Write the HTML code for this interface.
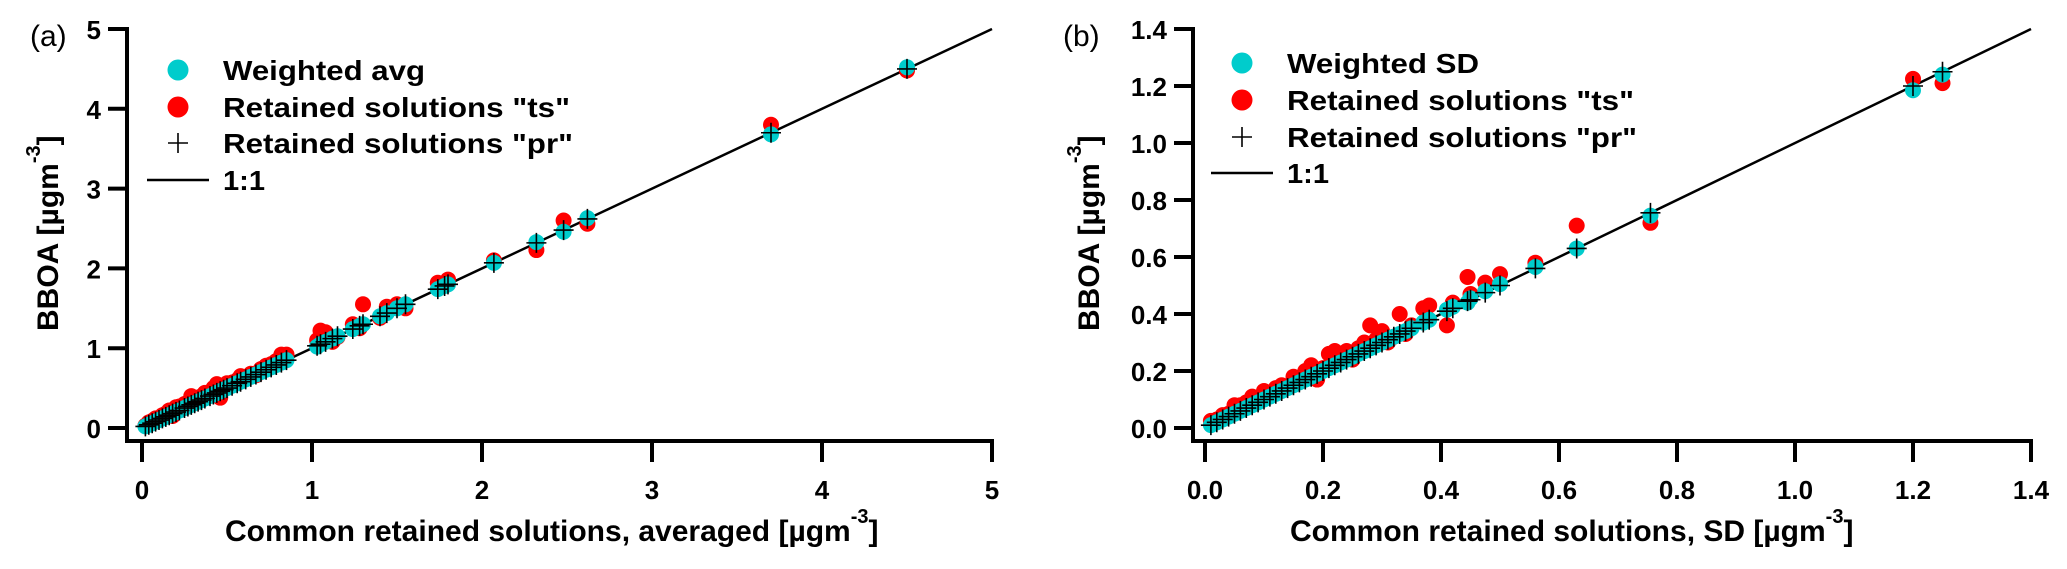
<!DOCTYPE html>
<html><head><meta charset="utf-8"><title>BBOA comparison</title>
<style>
html,body{margin:0;padding:0;background:#fff;}
svg{display:block;font-family:"Liberation Sans",Arial,sans-serif;font-weight:bold;}
</style></head>
<body>
<svg id="chart" width="2067" height="569" viewBox="0 0 2067 569" xmlns="http://www.w3.org/2000/svg"></svg>
<script>
// Panel (a) data
const aCommon = [0.02,0.04,0.06,0.08,0.10,0.12,0.14,0.16,0.18,0.20,0.22,0.25,0.27,0.29,0.31,0.33,0.35,0.37,0.40,0.42,0.44,0.46,0.48,0.50,0.53,0.56,0.58,0.61,0.64,0.67,0.70,0.73,0.76,0.79,0.82,0.85,1.03,1.05,1.08,1.12,1.15,1.24,1.28,1.30,1.40,1.44,1.50,1.55,1.74,1.78,1.80,2.07,2.32,2.48,2.62,3.70,4.50];
const aWeighted = [0.02,0.04,0.06,0.08,0.10,0.12,0.14,0.16,0.18,0.20,0.22,0.25,0.27,0.29,0.31,0.33,0.35,0.37,0.40,0.42,0.44,0.46,0.48,0.50,0.53,0.56,0.58,0.61,0.64,0.67,0.70,0.73,0.76,0.79,0.82,0.85,1.02,1.05,1.08,1.12,1.15,1.24,1.28,1.30,1.40,1.44,1.50,1.55,1.74,1.78,1.80,2.07,2.33,2.46,2.63,3.68,4.52];
const aTs = [0.03,0.07,0.09,0.12,0.12,0.16,0.18,0.22,0.15,0.26,0.27,0.30,0.32,0.40,0.35,0.38,0.40,0.44,0.45,0.50,0.55,0.38,0.52,0.56,0.57,0.60,0.65,0.62,0.68,0.66,0.74,0.78,0.80,0.84,0.92,0.92,1.10,1.22,1.20,1.08,1.14,1.30,1.25,1.55,1.38,1.52,1.55,1.50,1.82,1.80,1.86,2.10,2.23,2.60,2.56,3.80,4.48];
const aPr = [0.02,0.04,0.06,0.08,0.10,0.12,0.14,0.16,0.18,0.20,0.22,0.25,0.27,0.29,0.31,0.33,0.35,0.37,0.40,0.42,0.44,0.46,0.48,0.50,0.53,0.56,0.58,0.61,0.64,0.67,0.70,0.73,0.76,0.79,0.82,0.85,1.03,1.05,1.08,1.12,1.15,1.24,1.28,1.30,1.40,1.44,1.50,1.55,1.74,1.78,1.80,2.07,2.32,2.48,2.62,3.70,4.50];
const aTicks = ["0","1","2","3","4","5"];
const aTickVals = [0,1,2,3,4,5];
// Panel (b) data
const bCommon = [0.010,0.020,0.030,0.040,0.050,0.060,0.070,0.080,0.090,0.100,0.110,0.120,0.130,0.140,0.150,0.160,0.170,0.180,0.190,0.200,0.210,0.220,0.230,0.240,0.250,0.260,0.270,0.280,0.290,0.300,0.310,0.320,0.330,0.340,0.350,0.370,0.380,0.410,0.420,0.445,0.450,0.475,0.500,0.560,0.630,0.755,1.200,1.250];
const bWeighted = [0.010,0.020,0.030,0.040,0.050,0.060,0.070,0.080,0.090,0.100,0.110,0.120,0.130,0.140,0.150,0.160,0.170,0.180,0.190,0.200,0.210,0.220,0.230,0.240,0.250,0.260,0.270,0.280,0.290,0.300,0.310,0.320,0.330,0.340,0.350,0.370,0.380,0.415,0.425,0.440,0.455,0.480,0.505,0.565,0.630,0.745,1.185,1.240];
const bTs = [0.025,0.030,0.045,0.050,0.080,0.080,0.090,0.110,0.100,0.130,0.120,0.140,0.150,0.145,0.180,0.170,0.200,0.220,0.170,0.210,0.260,0.270,0.260,0.270,0.240,0.280,0.300,0.360,0.310,0.340,0.300,0.320,0.400,0.330,0.360,0.420,0.430,0.360,0.440,0.530,0.470,0.510,0.540,0.580,0.710,0.720,1.225,1.210];
const bPr = [0.010,0.020,0.030,0.040,0.050,0.060,0.070,0.080,0.090,0.100,0.110,0.120,0.130,0.140,0.150,0.160,0.170,0.180,0.190,0.200,0.210,0.220,0.230,0.240,0.250,0.260,0.270,0.280,0.290,0.300,0.310,0.320,0.330,0.340,0.350,0.370,0.380,0.410,0.420,0.445,0.450,0.475,0.500,0.560,0.630,0.755,1.200,1.250];
const bTicks = ["0.0","0.2","0.4","0.6","0.8","1.0","1.2","1.4"];
const bTickVals = [0,0.2,0.4,0.6,0.8,1.0,1.2,1.4];

const NS = "http://www.w3.org/2000/svg";
const svg = document.getElementById("chart");
function mk(tag, attrs, parent) {
  const e = document.createElementNS(NS, tag);
  for (const k in attrs) e.setAttribute(k, attrs[k]);
  (parent || svg).appendChild(e);
  return e;
}

function panel(cfg) {
  const g = mk("g", {});
  
  
  const sx = v => cfg.x0 + v * cfg.kx;
  const sy = v => cfg.y0 - v * cfg.ky;
  const xMaxPx = sx(cfg.max), yMaxPx = sy(cfg.max);
  const ya = mk("line", {x1: cfg.axX, y1: yMaxPx - 2, x2: cfg.axX, y2: cfg.axY + 2, stroke: "#000", "stroke-width": 4}, g);
  
  
  const xa = mk("line", {x1: cfg.axX - 2, y1: cfg.axY, x2: xMaxPx + 2, y2: cfg.axY, stroke: "#000", "stroke-width": 4}, g);
  
  
  cfg.tickVals.forEach((v, i) => {
    const t1 = mk("line", {x1: cfg.axX - 19, y1: sy(v), x2: cfg.axX, y2: sy(v), stroke: "#000", "stroke-width": 4}, g);
    
    
    const l1 = mk("text", {x: cfg.axX - 26, y: sy(v) + 10, "font-size": 26, "text-anchor": "end"}, g);
    l1.textContent = cfg.ticks[i];
    
    
    const t2 = mk("line", {x1: sx(v), y1: cfg.axY, x2: sx(v), y2: cfg.axY + 21, stroke: "#000", "stroke-width": 4}, g);
    
    
    const l2 = mk("text", {x: sx(v), y: 499, "font-size": 26, "text-anchor": "middle"}, g);
    l2.textContent = cfg.ticks[i];
    
    
  });
  const ol = mk("line", {x1: sx(0), y1: sy(0), x2: xMaxPx, y2: yMaxPx, stroke: "#000", "stroke-width": 2.5}, g);
  
  
  cfg.common.forEach((c, i) => {
    const p = mk("circle", {cx: sx(c), cy: sy(cfg.ts[i]), r: 8, fill: "#ff0000"}, g);
    
    
  });
  cfg.common.forEach((c, i) => {
    const p = mk("circle", {cx: sx(c), cy: sy(cfg.w[i]), r: 8, fill: "#00cccc"}, g);
    
    
  });
  cfg.common.forEach((c, i) => {
    const px = sx(c), py = sy(cfg.pr[i]);
    const p = mk("path", {d: `M${px-10},${py}H${px+10}M${px},${py-10}V${py+10}`, stroke: "#000", "stroke-width": 1.6, fill: "none"}, g);
    
    
  });
  const lg = mk("g", {}, g);
  
  
  const lx = cfg.legX, ty = cfg.legY;
  const c1 = mk("circle", {cx: lx, cy: ty[0], r: 10.5, fill: "#00cccc"}, lg);
  
  
  const c2 = mk("circle", {cx: lx, cy: ty[1], r: 10.5, fill: "#ff0000"}, lg);
  
  
  const c3 = mk("path", {d: `M${lx-10},${ty[2]}H${lx+10}M${lx},${ty[2]-10}V${ty[2]+10}`, stroke: "#000", "stroke-width": 1.6}, lg);
  
  
  const c4 = mk("line", {x1: lx - 31, y1: ty[3], x2: lx + 31, y2: ty[3], stroke: "#000", "stroke-width": 2.5}, lg);
  
  
  const labels = [cfg.wLabel, 'Retained solutions "ts"', 'Retained solutions "pr"', "1:1"];
  const widths = [cfg.wWidth, 347, 350, 42];
  labels.forEach((s, i) => {
    const t = mk("text", {x: cfg.legTextX, y: ty[i] + 10, "font-size": 28, textLength: widths[i], lengthAdjust: "spacingAndGlyphs"}, lg);
    t.textContent = s;
    
    
  });
  const pl = mk("text", {x: cfg.labX, y: 46, "font-size": 30, "font-weight": "normal"}, g);
  pl.textContent = cfg.label;
  
  
  const xt = mk("text", {x: cfg.xtX, y: 541, "font-size": 30}, g);
  
  
  const s1 = mk("tspan", {}, xt); s1.textContent = cfg.xTitle + " [µgm";
  const s2 = mk("tspan", {dy: -18, "font-size": 20}, xt); s2.textContent = "-3";
  const s3 = mk("tspan", {dy: 18}, xt); s3.textContent = "]";
  const yt = mk("text", {x: 0, y: 0, "font-size": 30, transform: `translate(${cfg.ytX},331) rotate(-90)`}, g);
  
  
  const y1 = mk("tspan", {}, yt); y1.textContent = "BBOA [µgm";
  const y2 = mk("tspan", {dy: -18, "font-size": 20}, yt); y2.textContent = "-3";
  const y3 = mk("tspan", {dy: 18}, yt); y3.textContent = "]";
}

panel({name: "panel-a", x0: 142, kx: 170, y0: 428, ky: 79.8, max: 5, axX: 127, axY: 441,
  tickVals: aTickVals, ticks: aTicks, common: aCommon, w: aWeighted, ts: aTs, pr: aPr,
  legX: 178, legY: [70, 107, 143, 180], legTextX: 223, wLabel: "Weighted avg", wWidth: 202,
  label: "(a)", labX: 30, xtX: 225, xTitle: "Common retained solutions, averaged", ytX: 58});
panel({name: "panel-b", x0: 1205, kx: 590, y0: 428, ky: 285, max: 1.4, axX: 1193, axY: 441,
  tickVals: bTickVals, ticks: bTicks, common: bCommon, w: bWeighted, ts: bTs, pr: bPr,
  legX: 1242, legY: [63, 100, 137, 173], legTextX: 1287, wLabel: "Weighted SD", wWidth: 192,
  label: "(b)", labX: 1063, xtX: 1290, xTitle: "Common retained solutions, SD", ytX: 1099});
</script>
</body></html>
